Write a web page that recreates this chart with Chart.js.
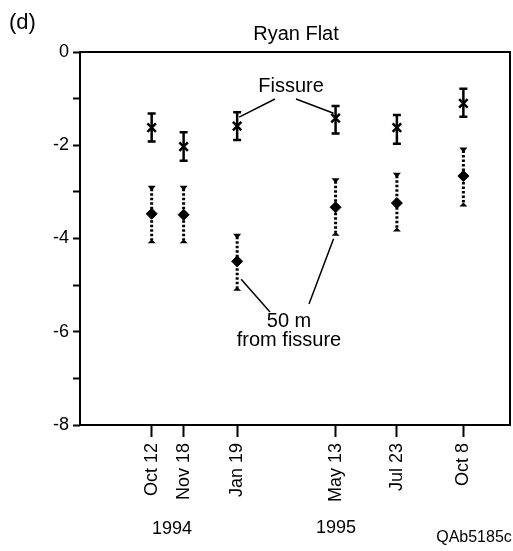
<!DOCTYPE html>
<html>
<head>
<meta charset="utf-8">
<script src="https://cdn.jsdelivr.net/npm/chart.js@4/dist/chart.umd.min.js"></script>
<style>
  html, body { margin: 0; padding: 0; background: #fff; }
  #wrap { width: 513px; height: 551px; }
</style>
</head>
<body>
<div id="wrap"><canvas id="c" width="513" height="551"></canvas></div>
<script>
// sampling dates, as days after Oct 12 1994
const sampleDays = [0, 37, 99, 213, 284, 361];
const dateLabels = ['Oct 12', 'Nov 18', 'Jan 19', 'May 13', 'Jul 23', 'Oct 8'];

// fissure site (x markers, solid bars)
const fissureMean = [-1.62, -2.03, -1.59, -1.42, -1.62, -1.10];
const fissureLow  = [-1.92, -2.33, -1.89, -1.75, -1.97, -1.39];
const fissureHigh = [-1.32, -1.72, -1.29, -1.16, -1.35, -0.79];

// 50 m from fissure (diamonds, dotted bars)
const farMean = [-3.47, -3.49, -4.49, -3.33, -3.24, -2.66];
const farLow  = [-4.08, -4.08, -5.10, -3.92, -3.83, -3.29];
const farHigh = [-2.89, -2.89, -3.92, -2.73, -2.61, -2.07];

const yTicks = [0, -1, -2, -3, -4, -5, -6, -7, -8];

const FONT = '"Liberation Sans", Arial, Helvetica, sans-serif';

const toPoints = (ys) => sampleDays.map((d, i) => ({ x: d, y: ys[i] }));

/** Draws error bars for each dataset under the markers */
const errorBars = {
    id: 'errorBars',
    beforeDatasetsDraw(chart) {
        const ctx = chart.ctx;
        const xs = chart.scales.x, ys = chart.scales.y;
        ctx.save();
        ctx.strokeStyle = '#000';
        ctx.fillStyle = '#000';
        sampleDays.forEach((d, i) => {
            const px = xs.getPixelForValue(d);

            // fissure: solid bar with flat caps
            let top = ys.getPixelForValue(fissureHigh[i]);
            let bot = ys.getPixelForValue(fissureLow[i]);
            ctx.setLineDash([]);
            ctx.lineWidth = 2.5;
            ctx.beginPath();
            ctx.moveTo(px, top); ctx.lineTo(px, bot);
            ctx.moveTo(px - 4, top); ctx.lineTo(px + 4, top);
            ctx.moveTo(px - 4, bot); ctx.lineTo(px + 4, bot);
            ctx.stroke();

            // 50 m: dotted bar with little triangle caps
            top = ys.getPixelForValue(farHigh[i]);
            bot = ys.getPixelForValue(farLow[i]);
            ctx.lineWidth = 3;
            ctx.setLineDash([2.5, 2]);
            ctx.beginPath();
            ctx.moveTo(px, top + 2); ctx.lineTo(px, bot - 2);
            ctx.stroke();
            ctx.setLineDash([]);
            ctx.beginPath();
            ctx.moveTo(px - 4, top - 1); ctx.lineTo(px + 4, top - 1); ctx.lineTo(px, top + 4);
            ctx.closePath();
            ctx.fill();
            ctx.beginPath();
            ctx.moveTo(px - 4, bot + 1); ctx.lineTo(px + 4, bot + 1); ctx.lineTo(px, bot - 3);
            ctx.closePath();
            ctx.fill();
        });
        ctx.restore();
    }
};

/** Frame, title, panel letter, callouts and year labels */
const decorations = {
    id: 'decorations',
    afterDraw(chart) {
        const ctx = chart.ctx;
        const a = chart.chartArea;
        const xs = chart.scales.x, ys = chart.scales.y;
        ctx.save();
        ctx.strokeStyle = '#000';
        ctx.fillStyle = '#000';
        ctx.lineWidth = 2;
        ctx.strokeRect(a.left, a.top, a.right - a.left, a.bottom - a.top);

        ctx.textBaseline = 'middle';
        ctx.textAlign = 'left';
        ctx.font = '22px ' + FONT;
        ctx.fillText('(d)', 9, 23);

        ctx.textAlign = 'center';
        ctx.font = '20px ' + FONT;
        ctx.fillText('Ryan Flat', 296, 34);

        // Fissure callout
        ctx.fillText('Fissure', 291, 86);
        ctx.lineWidth = 1.5;
        ctx.beginPath();
        ctx.moveTo(xs.getPixelForValue(sampleDays[2]) + 2, ys.getPixelForValue(fissureMean[2]) - 9);
        ctx.lineTo(275, 99);
        ctx.moveTo(296, 99);
        ctx.lineTo(xs.getPixelForValue(sampleDays[3]) - 2, ys.getPixelForValue(fissureMean[3]) - 5);
        ctx.stroke();

        // 50 m callout
        ctx.fillText('50 m', 289, 321);
        ctx.fillText('from fissure', 289, 340);
        ctx.beginPath();
        ctx.moveTo(xs.getPixelForValue(sampleDays[2]) + 4, ys.getPixelForValue(farMean[2]) + 18);
        ctx.lineTo(270, 312);
        ctx.moveTo(309, 304);
        ctx.lineTo(xs.getPixelForValue(sampleDays[3]) - 2, ys.getPixelForValue(farLow[3]) + 4);
        ctx.stroke();

        // years under the date labels
        ctx.font = '18px ' + FONT;
        ctx.fillText('1994', 172, 529);
        ctx.fillText('1995', 336, 528);
        ctx.font = '16px ' + FONT;
        ctx.fillText('QAb5185c', 474, 538);
        ctx.restore();
    }
};

new Chart(document.getElementById('c'), {
    type: 'scatter',
    data: {
        datasets: [
            {
                label: 'Fissure',
                data: toPoints(fissureMean),
                pointStyle: 'crossRot',
                pointRadius: 6,
                borderColor: '#000',
                borderWidth: 2.5,
                showLine: false
            },
            {
                label: '50 m from fissure',
                data: toPoints(farMean),
                pointStyle: 'rectRot',
                pointRadius: 5.5,
                backgroundColor: '#000',
                borderColor: '#000',
                borderWidth: 1,
                showLine: false
            }
        ]
    },
    options: {
        responsive: false,
        animation: false,
        events: [],
        layout: {
            autoPadding: false,
            padding: { top: 52, right: 3, left: 0, bottom: 0 }
        },
        plugins: {
            legend: { display: false },
            title: { display: false },
            tooltip: { enabled: false }
        },
        scales: {
            x: {
                type: 'linear',
                min: -83,
                max: 415,
                afterBuildTicks(scale) {
                    scale.ticks = sampleDays.map(v => ({ value: v }));
                },
                afterFit(scale) {
                    scale.height = 126;
                    scale.paddingLeft = 0;
                    scale.paddingRight = 0;
                },
                border: { display: false },
                grid: {
                    drawOnChartArea: false,
                    drawTicks: true,
                    tickLength: 12,
                    tickWidth: 2,
                    tickColor: '#000'
                },
                ticks: {
                    autoSkip: false,
                    minRotation: 90,
                    maxRotation: 90,
                    padding: 6,
                    color: '#000',
                    font: { family: FONT, size: 18 },
                    callback: (v) => dateLabels[sampleDays.indexOf(v)]
                }
            },
            y: {
                type: 'linear',
                min: -8,
                max: 0,
                afterBuildTicks(scale) {
                    scale.ticks = yTicks.map(v => ({ value: v }));
                },
                afterFit(scale) {
                    scale.width = 80;
                    scale.paddingTop = 0;
                    scale.paddingBottom = 0;
                },
                border: { display: false },
                grid: {
                    drawOnChartArea: false,
                    drawTicks: true,
                    tickLength: 7,
                    tickWidth: 2,
                    tickColor: '#000'
                },
                ticks: {
                    padding: 4,
                    color: '#000',
                    font: { family: FONT, size: 18 },
                    callback: (v) => (v % 2 === 0 ? String(v) : '')
                }
            }
        }
    },
    plugins: [errorBars, decorations]
});
</script>
</body>
</html>
